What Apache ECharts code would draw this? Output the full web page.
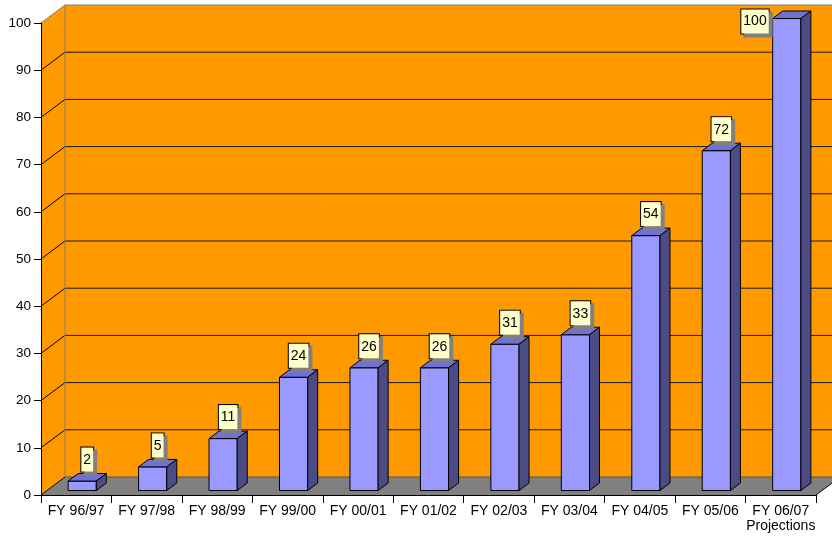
<!DOCTYPE html>
<html>
<head>
<meta charset="utf-8">
<script src="https://cdn.jsdelivr.net/npm/echarts@6/dist/echarts.min.js"></script>
<style>html,body{margin:0;padding:0;background:#fff}#c{width:832px;height:540px}</style>
</head>
<body>
<div id="c"></div>
<script>
const categories = ['FY 96/97','FY 97/98','FY 98/99','FY 99/00','FY 00/01','FY 01/02','FY 02/03','FY 03/04','FY 04/05','FY 05/06','FY 06/07\nProjections'];
const values = [2, 5, 11, 24, 26, 26, 31, 33, 54, 72, 100];
const yTicks = [0, 10, 20, 30, 40, 50, 60, 70, 80, 90, 100];

const WALL_DX = 24, WALL_DY = -18;   // depth of the 3D box
const BAR_OX = 6, BAR_OY = -4.5;      // bar front face shift into depth
const BAR_DX = 10, BAR_DY = -7.5;     // bar depth
const FONT = '14px "Liberation Sans", Arial, sans-serif';

const chart = echarts.init(document.getElementById('c'), null, {renderer: 'canvas'});

function poly(points, fill, stroke, lw) {
  return {type: 'polygon', shape: {points}, style: {fill, stroke: stroke || null, lineWidth: lw || 0}};
}
function line(x1, y1, x2, y2, stroke) {
  return {type: 'line', shape: {x1, y1, x2, y2}, style: {stroke, lineWidth: 1}};
}

function renderWalls(params, api) {
  const cs = params.coordSys;
  const x0 = cs.x, x1 = cs.x + cs.width;
  const yb = api.coord([0, 0])[1];
  const yt = api.coord([0, yTicks[yTicks.length - 1]])[1];
  const ch = [];
  ch.push(poly([[x0 + WALL_DX, yt + WALL_DY], [x1 + WALL_DX, yt + WALL_DY], [x1 + WALL_DX, yb + WALL_DY], [x0 + WALL_DX, yb + WALL_DY]], '#FF9900'));
  ch.push(poly([[x0, yb], [x0, yt], [x0 + WALL_DX, yt + WALL_DY], [x0 + WALL_DX, yb + WALL_DY]], '#FF9900'));
  ch.push(poly([[x0, yb], [x0 + WALL_DX, yb + WALL_DY], [x1 + WALL_DX, yb + WALL_DY], [x1, yb]], '#808080'));
  yTicks.forEach((t, k) => {
    const y = api.coord([0, t])[1];
    const last = k === yTicks.length - 1;
    const col = last ? '#808080' : (k === 0 ? '#555555' : '#1a1a1a');
    ch.push(line(x0, y, x0 + WALL_DX, y + WALL_DY, last ? '#808080' : '#000'));
    ch.push(line(x0 + WALL_DX, y + WALL_DY, x1 + WALL_DX, y + WALL_DY, col));
  });
  ch.push(line(x0 + WALL_DX, yt + WALL_DY, x0 + WALL_DX, yb + WALL_DY, '#808080'));
  ch.push(line(x1, yb, x1 + WALL_DX, yb + WALL_DY, '#000'));
  return {type: 'group', children: ch};
}

function renderBar(params, api) {
  const i = api.value(0), v = api.value(1);
  const top = api.coord([i, v]);
  const base = api.coord([i, 0]);
  const w = api.size([1, 0])[0] * 0.4;
  const fx0 = top[0] - w / 2 + BAR_OX, fx1 = fx0 + w;
  const fyT = top[1] + BAR_OY, fyB = base[1] + BAR_OY;
  const ch = [];
  ch.push(poly([[fx0, fyT], [fx1, fyT], [fx1, fyB], [fx0, fyB]], '#9999FF', '#000', 1));
  ch.push(poly([[fx0, fyT], [fx0 + BAR_DX, fyT + BAR_DY], [fx1 + BAR_DX, fyT + BAR_DY], [fx1, fyT]], '#7171D4', '#000', 1));
  ch.push(poly([[fx1, fyT], [fx1 + BAR_DX, fyT + BAR_DY], [fx1 + BAR_DX, fyB + BAR_DY], [fx1, fyB]], '#4B4B85', '#000', 1));
  const labelStyle = {
    text: String(v), font: FONT, fill: '#000',
    backgroundColor: '#FFFFCC', borderColor: '#000', borderWidth: 1,
    padding: [5, 2, 4, 2], lineHeight: 15,
    shadowColor: '#808080', shadowOffsetX: 3, shadowOffsetY: 3, shadowBlur: 0
  };
  let lx = (fx0 + fx1) / 2 + BAR_DX / 2, ly = fyT + BAR_DY - 2;
  if (ly - 24 < 2) {
    labelStyle.align = 'right'; labelStyle.verticalAlign = 'middle';
    lx = fx0 - 4; ly = fyT + 3;
  } else {
    labelStyle.align = 'center'; labelStyle.verticalAlign = 'bottom';
  }
  ch.push({type: 'text', x: lx, y: ly, style: labelStyle});
  return {type: 'group', children: ch};
}

chart.setOption({
  animation: false,
  backgroundColor: '#ffffff',
  grid: {left: 41, right: 16, top: 23, bottom: 45},
  xAxis: {
    type: 'category', data: categories, z: 5,
    axisLine: {show: true, lineStyle: {color: '#000', width: 1}},
    axisTick: {show: true, length: 8, lineStyle: {color: '#000'}},
    axisLabel: {color: '#000', fontSize: 14, fontFamily: '"Liberation Sans", Arial, sans-serif', margin: 9, lineHeight: 15, interval: 0},
    splitLine: {show: false}
  },
  yAxis: {
    type: 'value', min: 0, max: 100, interval: 10, z: 5,
    axisLine: {show: true, lineStyle: {color: '#000', width: 1}},
    axisTick: {show: true, length: 7, lineStyle: {color: '#000'}},
    axisLabel: {color: '#000', fontSize: 13.5, fontFamily: '"Liberation Sans", Arial, sans-serif', margin: 10},
    splitLine: {show: false}
  },
  series: [
    {type: 'custom', z: 1, clip: false, silent: true, renderItem: renderWalls, data: [[0, 0]], encode: {x: 0, y: 1}},
    {type: 'custom', z: 2, clip: false, renderItem: renderBar, data: values.map((v, i) => [i, v]), encode: {x: 0, y: 1}}
  ]
});
</script>
</body>
</html>
